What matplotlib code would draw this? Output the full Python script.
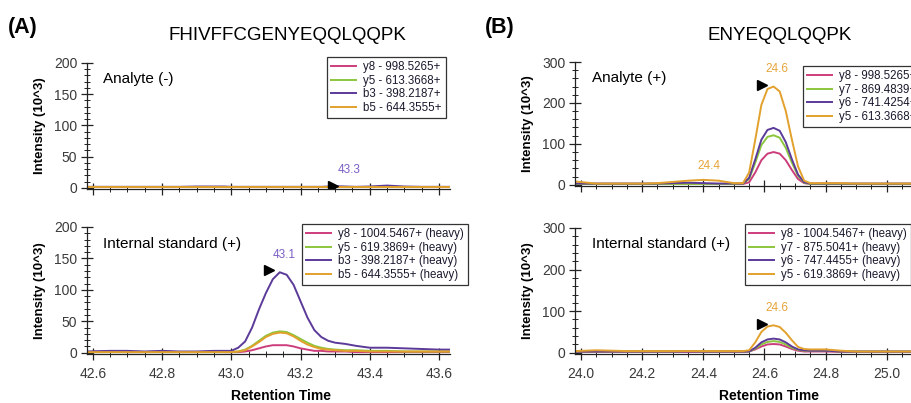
import matplotlib
matplotlib.use("Agg")
import matplotlib.pyplot as plt
from matplotlib.ticker import MultipleLocator, FuncFormatter

plt.rcParams['font.family'] = ['Liberation Sans', 'DejaVu Sans']

# Retention times (min) for the FHIVFFCGENYEQQLQQPK traces
rt_a = [42.58, 42.65, 42.70, 42.75, 42.80, 42.85, 42.90, 42.95, 42.98, 43.00,
        43.02, 43.04, 43.06, 43.08, 43.10, 43.12, 43.14, 43.16, 43.18, 43.20,
        43.22, 43.24, 43.26, 43.28, 43.30, 43.33, 43.36, 43.40, 43.45, 43.50,
        43.55, 43.60, 43.63]

# Analyte (-), intensity in 10^3
a_y8 = [1, 1, 1, 1, 1, 1, 1, 1, 1, 1, 1, 1, 1, 1, 1, 1, 1, 1, 1, 1,
        1, 1, 1, 1, 1, 1, 1, 1, 1, 1, 1, 1, 1]
a_y5 = [1.5, 1.5, 1.5, 1.5, 1.5, 1.5, 1.5, 1.5, 1.5, 1.5, 1.5, 1.5, 1.5, 1.5, 1.5, 1.5, 1.5, 1.5, 1.5, 1.5,
        1.5, 1.5, 1.5, 1.5, 1.5, 1.5, 1.5, 1.5, 1.5, 1.5, 1.5, 1.5, 1.5]
a_b3 = [1.5, 1.5, 1.5, 1.5, 1.5, 1.5, 2, 2, 2, 1.5, 1.5, 1.5, 1.5, 1.5, 1.5, 1.5, 1.5, 1.5, 1.5, 1.5,
        1.5, 1.5, 1.5, 2, 2.5, 2, 1.5, 2, 3.5, 2, 1.5, 1.5, 1.5]
a_b5 = [2, 2, 2, 2, 2, 2, 2, 2, 2, 2, 2, 2, 2, 2, 2, 2, 2, 2, 2, 2,
        2, 2, 2, 2, 2, 2, 2, 2, 2, 2, 2, 2, 2]

# Internal standard (+), intensity in 10^3
s_y8 = [1, 2, 1, 1, 2, 1, 1, 2, 1, 1, 1, 2, 4, 7, 10, 12, 12, 12, 10, 7,
        5, 3, 3, 2, 2, 2, 1, 1, 1, 1, 1, 1, 1]
s_y5 = [1, 1, 1, 1, 1, 1, 1, 1, 1, 1, 2, 5, 11, 19, 27, 32, 34, 33, 28, 22,
        16, 11, 8, 6, 5, 4, 4, 3, 3, 2, 2, 2, 2]
s_b3 = [2, 3, 3, 2, 3, 2, 2, 3, 3, 3, 8, 18, 40, 69, 95, 117, 128, 124, 108, 82,
        56, 36, 25, 19, 16, 14, 11, 8, 8, 7, 6, 5, 5]
s_b5 = [1, 1, 1, 1, 1, 1, 1, 1, 1, 1, 2, 4, 10, 17, 25, 30, 32, 31, 26, 19,
        13, 9, 6, 5, 4, 3, 3, 2, 2, 2, 2, 2, 2]

# Retention times (min) for the ENYEQQLQQPK traces
rt_b = [23.98, 24.05, 24.10, 24.15, 24.20, 24.25, 24.30, 24.35, 24.40, 24.45,
        24.50, 24.53, 24.55, 24.57, 24.59, 24.61, 24.63, 24.65, 24.67, 24.69,
        24.71, 24.73, 24.75, 24.80, 24.85, 24.90, 25.00, 25.10, 25.25]

# Analyte (+)
b_y8 = [2, 2, 2, 2, 2, 2, 2, 2, 2, 2, 2, 2, 6, 30, 60, 76, 80, 76, 60, 36,
        14, 4, 2, 2, 2, 2, 2, 2, 2]
b_y7 = [2, 2, 2, 2, 2, 2, 2, 2, 2, 2, 2, 3, 14, 54, 97, 117, 121, 115, 90, 54,
        22, 5, 2, 2, 2, 2, 2, 2, 2]
b_y6 = [3, 3, 3, 3, 3, 3, 4, 5, 4, 3, 3, 3, 17, 62, 110, 134, 139, 132, 104, 62,
        25, 6, 3, 3, 3, 3, 3, 3, 3]
b_y5 = [8, 3, 3, 3, 3, 4, 7, 10, 12, 10, 4, 4, 30, 110, 195, 234, 240, 228, 180, 110,
        45, 10, 4, 4, 4, 3, 3, 3, 3]

# Internal standard (+)
h_y8 = [2, 2, 2, 2, 2, 2, 2, 2, 2, 2, 2, 2, 3, 8, 15, 20, 21, 20, 15, 9,
        5, 3, 3, 3, 2, 2, 2, 2, 2]
h_y7 = [3, 3, 3, 3, 3, 3, 3, 4, 3, 3, 3, 3, 3, 10, 20, 26, 28, 26, 20, 12,
        7, 5, 5, 5, 3, 3, 3, 3, 3]
h_y6 = [3, 3, 3, 3, 3, 3, 3, 3, 3, 3, 3, 3, 3, 12, 25, 32, 34, 32, 25, 15,
        8, 6, 5, 5, 3, 3, 3, 3, 3]
h_y5 = [4, 6, 5, 4, 4, 4, 4, 4, 4, 4, 4, 4, 6, 25, 50, 63, 66, 62, 48, 30,
        14, 9, 8, 8, 5, 3, 3, 3, 3]

labels_a_top = ["y8 - 998.5265+", "y5 - 613.3668+", "b3 - 398.2187+", "b5 - 644.3555+"]
labels_a_bot = ["y8 - 1004.5467+ (heavy)", "y5 - 619.3869+ (heavy)",
                "b3 - 398.2187+ (heavy)", "b5 - 644.3555+ (heavy)"]
labels_b_top = ["y8 - 998.5265+", "y7 - 869.4839+", "y6 - 741.4254+", "y5 - 613.3668+"]
labels_b_bot = ["y8 - 1004.5467+ (heavy)", "y7 - 875.5041+ (heavy)",
                "y6 - 747.4455+ (heavy)", "y5 - 619.3869+ (heavy)"]

pink, green, purple, orange = "#cc3d7c", "#8cc63e", "#5b3a99", "#e2a12c"
colors = [pink, green, purple, orange]

W, H = 911, 403
fig = plt.figure(figsize=(W / 100, H / 100), dpi=100)


def px_axes(x0, y_top, x1, y_bot):
    return fig.add_axes([x0 / W, 1 - y_bot / H, (x1 - x0) / W, (y_bot - y_top) / H])


def rt_fmt(v, pos, last):
    return "%.1f" % v if v <= last + 1e-6 else ""


def style(ax, xlim, ylim, ymaj, ymin, show_x, last_label):
    ax.set_xlim(*xlim)
    ax.set_ylim(*ylim)
    for s in ["top", "right"]:
        ax.spines[s].set_visible(False)
    for s in ["left", "bottom"]:
        ax.spines[s].set_color("#222222")
        ax.spines[s].set_linewidth(0.9)
    ax.xaxis.set_major_locator(MultipleLocator(0.2))
    ax.xaxis.set_minor_locator(MultipleLocator(0.05))
    ax.yaxis.set_major_locator(MultipleLocator(ymaj))
    ax.yaxis.set_minor_locator(MultipleLocator(ymin))
    ax.tick_params(which="major", direction="inout", length=8, width=0.9,
                   color="#222222", labelsize=10, labelcolor="#3a3a3a", pad=3)
    ax.tick_params(which="minor", direction="inout", length=4, width=0.7, color="#222222")
    ax.tick_params(axis="x", labelbottom=show_x, pad=5)
    ax.xaxis.set_major_formatter(FuncFormatter(lambda v, p: rt_fmt(v, p, last_label)))
    ax.set_ylabel("Intensity (10^3)", fontsize=9.5, fontweight="bold", labelpad=6)


def draw(ax, rt, series, labels, legend_xy):
    for ys, c, lab in zip(series, colors, labels):
        ax.plot(rt, ys, color=c, lw=1.4, label=lab)
    leg = ax.legend(loc="upper left", bbox_to_anchor=(legend_xy[0] / W, 1 - legend_xy[1] / H),
                    bbox_transform=fig.transFigure, borderaxespad=0, fontsize=8.3,
                    handlelength=2.2, handletextpad=0.6, labelspacing=0.15,
                    borderpad=0.35, fancybox=False, framealpha=1)
    leg.get_frame().set_edgecolor("#333333")
    leg.get_frame().set_linewidth(0.9)
    for t in leg.get_texts():
        t.set_color("#1a1a2e")


def peak_mark(ax, x, y, text, color):
    ax.plot([x], [y], marker=">", color="black", ms=7, ls="none")
    ax.annotate(text, (x, y), xytext=(11, 7), textcoords="offset points",
                ha="center", va="bottom", fontsize=8.5, color=color)


# Panel A
ax1 = px_axes(87, 63, 450, 189)
style(ax1, (42.583, 43.632), (-2, 200), 50, 10, False, 43.6)
draw(ax1, rt_a, [a_y8, a_y5, a_b3, a_b5], labels_a_top, (327, 57))
ax1.text(0.045, 0.87, "Analyte (-)", transform=ax1.transAxes, fontsize=11, va="center")
peak_mark(ax1, 43.295, 3, "43.3", "#7b5fc4")

ax2 = px_axes(87, 227, 450, 354)
style(ax2, (42.583, 43.632), (-2, 200), 50, 10, True, 43.6)
draw(ax2, rt_a, [s_y8, s_y5, s_b3, s_b5], labels_a_bot, (302, 224))
ax2.text(0.045, 0.87, "Internal standard (+)", transform=ax2.transAxes, fontsize=11, va="center")
peak_mark(ax2, 43.108, 131, "43.1", "#7b5fc4")

# Panel B
ax3 = px_axes(575, 62, 963, 186)
style(ax3, (23.98, 25.25), (-3, 300), 100, 20, False, 25.0)
draw(ax3, rt_b, [b_y8, b_y7, b_y6, b_y5], labels_b_top, (803, 66))
ax3.text(0.045, 0.87, "Analyte (+)", transform=ax3.transAxes, fontsize=11, va="center")
peak_mark(ax3, 24.592, 245, "24.6", "#e6a53a")
ax3.annotate("24.4", (24.42, 14), xytext=(0, 5), textcoords="offset points",
             ha="center", va="bottom", fontsize=8.5, color="#e6a53a")

ax4 = px_axes(575, 228, 963, 354)
style(ax4, (23.98, 25.25), (-3, 300), 100, 20, True, 25.0)
draw(ax4, rt_b, [h_y8, h_y7, h_y6, h_y5], labels_b_bot, (745, 224))
ax4.text(0.045, 0.87, "Internal standard (+)", transform=ax4.transAxes, fontsize=11, va="center")
peak_mark(ax4, 24.592, 69, "24.6", "#e6a53a")

# Figure-level titles and axis captions
fig.text(8 / W, 1 - 27 / H, "(A)", fontsize=15.5, fontweight="bold", va="center")
fig.text(485 / W, 1 - 27 / H, "(B)", fontsize=15.5, fontweight="bold", va="center")
fig.text(287 / W, 1 - 36 / H, "FHIVFFCGENYEQQLQQPK", fontsize=13.5, ha="center", va="center")
fig.text(780 / W, 1 - 36 / H, "ENYEQQLQQPK", fontsize=13.5, ha="center", va="center")
fig.text(281 / W, 1 - 396 / H, "Retention Time", fontsize=10, fontweight="bold", ha="center", va="center")
fig.text(769 / W, 1 - 396 / H, "Retention Time", fontsize=10, fontweight="bold", ha="center", va="center")

fig.savefig("out.png", dpi=100)
